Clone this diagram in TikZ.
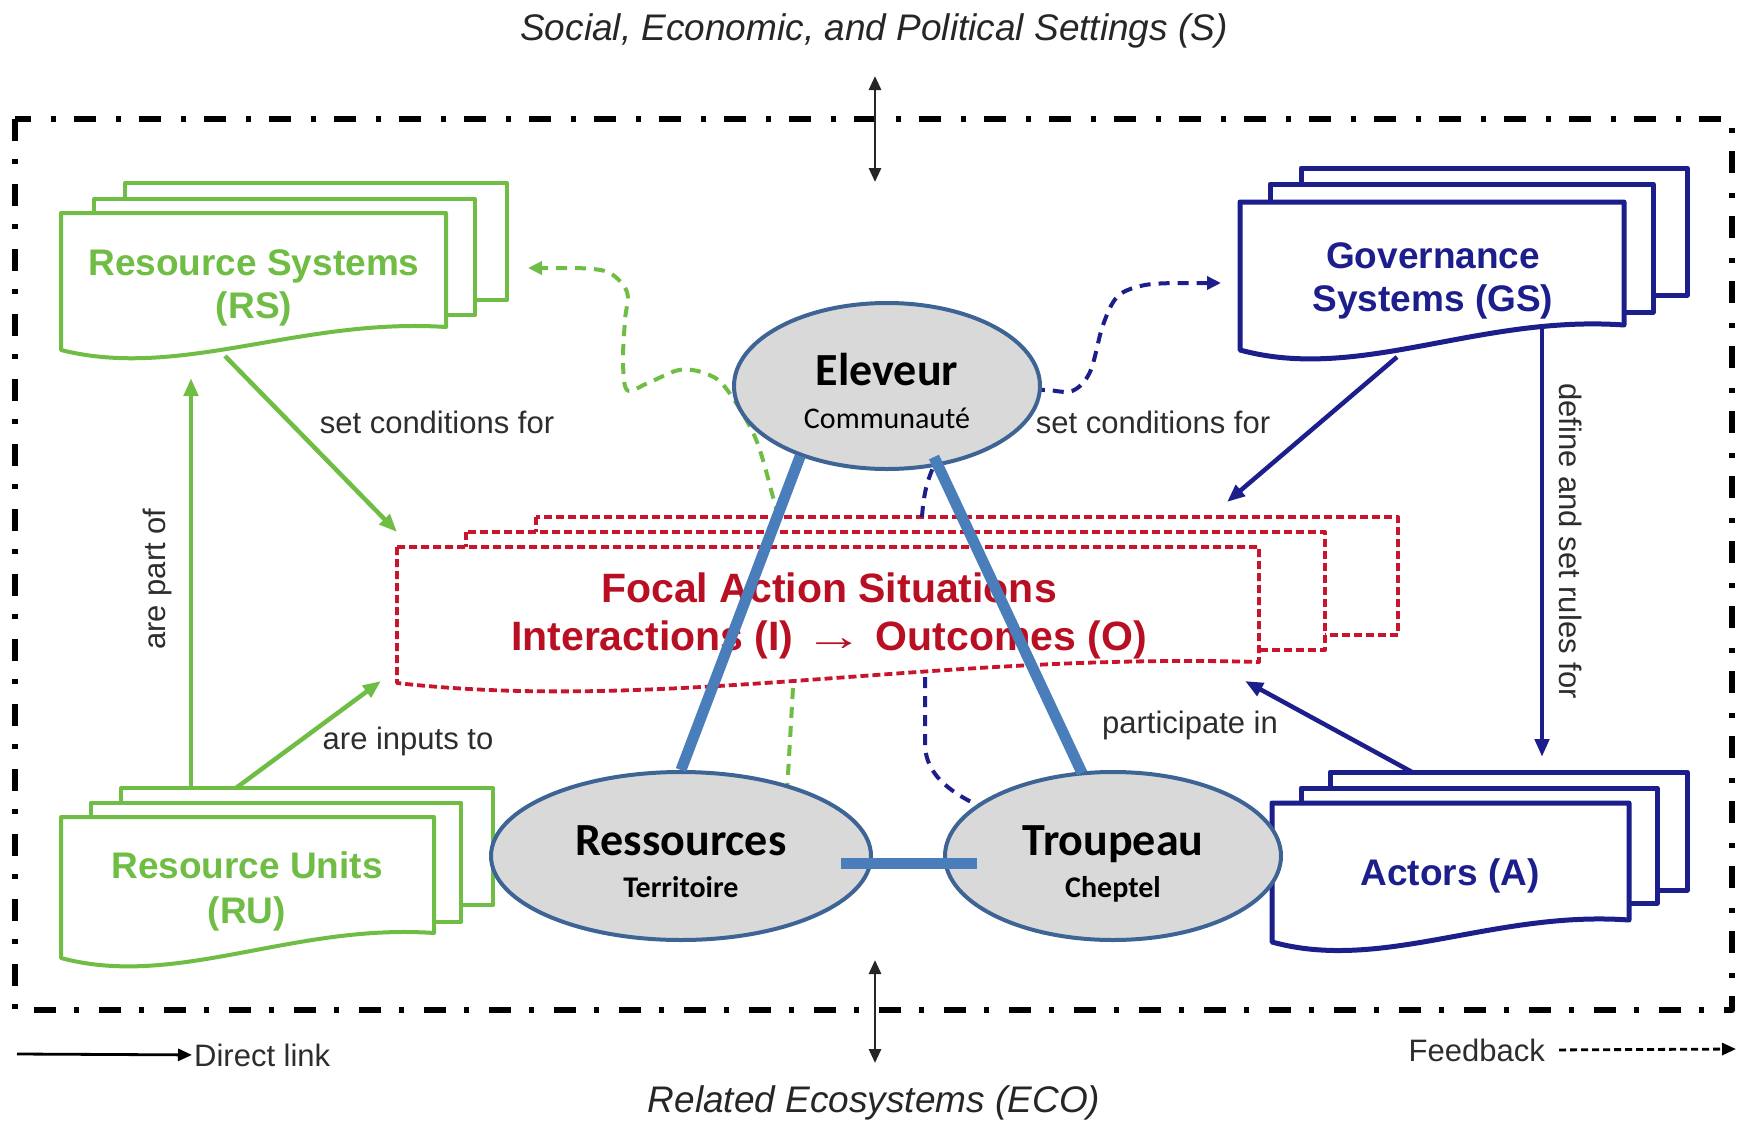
\documentclass[tikz,border=0pt]{standalone}
\usepackage{fontspec}
\setmainfont{Liberation Sans}
\newfontfamily\calfont{Carlito}
\usetikzlibrary{arrows.meta,shapes.geometric}

\definecolor{gr}{RGB}{112,189,70}
\definecolor{nv}{RGB}{28,30,140}
\definecolor{rd}{RGB}{200,20,45}
\definecolor{rdt}{RGB}{185,15,35}
\definecolor{ebord}{RGB}{62,100,150}
\definecolor{efill}{RGB}{217,217,217}
\definecolor{bl}{RGB}{74,126,187}
\definecolor{lab}{RGB}{45,45,45}

% document shape: style, x, y, w, h(left), h(right)
\newcommand{\docshape}[6]{%
  \draw[#1] (#2,#3) -- ({#2+#4},#3) -- ({#2+#4},{#3+#6})
    .. controls ({#2+0.62*#4},{#3+#6-0.07*#5}) and ({#2+0.31*#4},{#3+1.22*#5}) ..
    (#2,{#3+#5}) -- cycle;}

\tikzset{
  frame/.style={line width=6pt, dash pattern=on 22pt off 18pt on 5pt off 20pt},
  gbox/.style={draw=gr, line width=4pt, fill=white},
  nbox/.style={draw=nv, line width=5pt, fill=white},
  rbox/.style={draw=rd, line width=3.8pt, dash pattern=on 8pt off 4pt, fill=white},
  glab/.style={anchor=base, text=gr, font=\bfseries\fontsize{37}{44}\selectfont, inner sep=0pt},
  nlab/.style={anchor=base, text=nv, font=\bfseries\fontsize{37}{44}\selectfont, inner sep=0pt},
  rlab/.style={anchor=base, text=rdt, font=\bfseries\fontsize{41}{48}\selectfont, inner sep=0pt},
  clab/.style={text=lab, font=\fontsize{31}{36}\selectfont, inner sep=0pt},
  ttl/.style={anchor=base, text=black!85, font=\itshape\fontsize{37}{44}\selectfont, inner sep=0pt},
  tip/.style={-{Triangle[length=18pt,width=14pt]}},
  garrow/.style={draw=gr, line width=4.5pt, tip},
  narrow/.style={draw=nv, line width=4.5pt, tip},
  gfeed/.style={draw=gr, line width=4pt, dash pattern=on 11pt off 8pt, -{Triangle[length=14pt,width=13pt]}},
  nfeed/.style={draw=nv, line width=4pt, dash pattern=on 11pt off 8pt, -{Triangle[length=14pt,width=13pt]}},
  gfeedplain/.style={draw=gr, line width=4pt, dash pattern=on 11pt off 8pt},
  nfeedplain/.style={draw=nv, line width=4pt, dash pattern=on 11pt off 8pt},
  ellip/.style={ellipse, draw=ebord, line width=4pt, fill=efill, inner sep=0pt},
  bigt/.style={anchor=base, font=\calfont\bfseries\fontsize{46}{50}\selectfont, inner sep=0pt},
  smallt/.style={anchor=base, font=\calfont\bfseries\fontsize{30}{34}\selectfont, inner sep=0pt},
  tie/.style={draw=bl, line width=11pt},
  dbl/.style={draw=black!85, line width=2.8pt, {Triangle[length=14pt,width=12pt]}-{Triangle[length=14pt,width=12pt]}},
  leglab/.style={text=lab, font=\fontsize{31}{36}\selectfont, inner sep=2pt},
  legarr/.style={draw=black, line width=2.8pt, -{Triangle[length=14pt,width=12pt]}},
  legdash/.style={draw=black, line width=2.8pt, dash pattern=on 7pt off 4pt, -{Triangle[length=14pt,width=12pt]}},
}

\begin{document}
\begin{tikzpicture}[x=1pt,y=-1pt,line join=round]
\useasboundingbox (0,0) rectangle (1746,1122);
\fill[white] (0,0) rectangle (1746,1122);

% outer frame
\draw[frame] (15,119) rectangle (1732,1010);

% titles and double arrows
\node[ttl] (set) at (874,40) {Social, Economic, and Political Settings (S)};
\node[ttl] (eco) at (874,1112) {Related Ecosystems (ECO)};
\coordinate (s1) at (875,76);  \coordinate (s2) at (875,182);
\draw[dbl] (s1) -- (s2);
\coordinate (e1) at (875,960); \coordinate (e2) at (875,1063);
\draw[dbl] (e1) -- (e2);

% Resource Systems
\draw[gbox] (125,183) rectangle ++(382,117);
\draw[gbox] (94,199) rectangle ++(381,116);
\docshape{gbox}{61}{213}{385}{137}{114}
\node[glab] (rs1) at (254,275) {Resource Systems};
\node[glab] (rs2) at (254,318) {(RS)};

% Resource Units
\draw[gbox] (121,788) rectangle ++(372,117);
\draw[gbox] (91,803) rectangle ++(370,119);
\docshape{gbox}{61}{817}{373}{141}{116}
\node[glab] (ru1) at (247,878) {Resource Units};
\node[glab] (ru2) at (247,923) {(RU)};

% Governance Systems
\draw[nbox] (1301,168) rectangle ++(386,127);
\draw[nbox] (1270,184) rectangle ++(383,128);
\docshape{nbox}{1240}{202}{384}{148}{123}
\node[nlab] (gs1) at (1433,268) {Governance};
\node[nlab] (gs2) at (1433,311) {Systems (GS)};

% Actors
\draw[nbox] (1330,772) rectangle ++(357,118);
\draw[nbox] (1301,788) rectangle ++(356,115);
\docshape{nbox}{1272}{803}{357}{139}{117}
\node[nlab] (ac) at (1450,885) {Actors (A)};

% Focal action situations
\draw[rbox] (536,517) rectangle ++(862,118);
\draw[rbox] (466,532) rectangle ++(859,118);
\docshape{rbox}{397}{547}{862}{136}{115}
\node[rlab] (fas1) at (829,602) {Focal Action Situations};
\node[rlab] (fas2) at (829,650) {Interactions (I) \scalebox{1.45}[1]{→} Outcomes (O)};

% direct links
\coordinate (rsB) at (225,356);   \coordinate (fasA) at (397,532);
\draw[garrow] (rsB) -- (fasA);
\node[clab, anchor=base] (l1) at (437,433) {set conditions for};

\coordinate (ruT1) at (191,788);  \coordinate (rsB2) at (191,378);
\draw[garrow] (ruT1) -- (rsB2);
\node[clab, rotate=90] (l2) at (157,579) {are part of};

\coordinate (ruT2) at (236,788);  \coordinate (fasB) at (381,681);
\draw[garrow] (ruT2) -- (fasB);
\node[clab, anchor=base] (l3) at (408,749) {are inputs to};

\coordinate (gsB) at (1397,357);  \coordinate (fasC) at (1227,502);
\draw[narrow] (gsB) -- (fasC);
\node[clab, anchor=base] (l4) at (1153,433) {set conditions for};

\coordinate (gsB2) at (1542,328); \coordinate (acT) at (1542,757);
\draw[narrow] (gsB2) -- (acT);
\node[clab, rotate=-90] (l5) at (1571,541) {define and set rules for};

\coordinate (acT2) at (1412,772); \coordinate (fasD) at (1245,681);
\draw[narrow] (acT2) -- (fasD);
\node[clab, anchor=base] (l6) at (1190,733) {participate in};

% feedback links
\coordinate (fasG) at (778,517);  \coordinate (rsR) at (528,268);
\draw[gfeed] plot[smooth, tension=0.55] coordinates {(fasG) (773,497) (755,437) (725,387) (704,373) (679,370) (648,383) (627,390) (623,360) (625,320) (627,292) (608,272) (575,268)} -- (rsR);
\coordinate (fasN) at (922,517);  \coordinate (gsL) at (1221,283);
\draw[nfeed] plot[smooth, tension=0.55] coordinates {(fasN) (929,478) (960,415) (1010,392) (1045,390) (1072,391) (1090,372) (1103,325) (1118,296) (1145,285) (1180,283)} -- (gsL);
\coordinate (fasG2) at (793,688); \coordinate (resT) at (787,792);
\draw[gfeedplain] (fasG2) -- (resT);
\coordinate (fasN2) at (925,677); \coordinate (troL) at (998,814);
\draw[nfeedplain] (fasN2) -- (925,745) .. controls (926,775) and (950,795) .. (troL);

% ellipses
\node[ellip, minimum width=306pt, minimum height=166pt] (el) at (887,386) {};
\node[ellip, minimum width=380pt, minimum height=168pt] (res) at (681,856) {};
\node[ellip, minimum width=336pt, minimum height=168pt] (tro) at (1113,856) {};
\node[bigt] (elT) at (887,385) {Eleveur};
\node[smallt, font=\calfont\fontsize{30}{34}\selectfont] (elS) at (887,428) {Communauté};
\node[bigt] (resTt) at (681,855) {Ressources};
\node[smallt] (resS) at (681,897) {Territoire};
\node[bigt] (troT) at (1113,855) {Troupeau};
\node[smallt] (troS) at (1113,897) {Cheptel};

% ties
\coordinate (elR) at (934,457); \coordinate (troTop) at (1082,773);
\coordinate (hb1) at (841,863);  \coordinate (hb2) at (977,863);
\draw[tie] (el.219) -- (res.north);
\draw[tie] (elR) -- (troTop);
\draw[tie] (hb1) -- (hb2);

% legend
\coordinate (dl0) at (17,1054);
\node[leglab, anchor=base west] (dl) at (192,1066) {Direct link};
\draw[legarr] (dl0) -- (dl.west);
\coordinate (fb1) at (1736,1049);
\node[leglab, anchor=base east] (fb) at (1547,1061) {Feedback};
\draw[legdash] ([xshift=12pt]fb.east) -- (fb1);
\end{tikzpicture}
\end{document}
